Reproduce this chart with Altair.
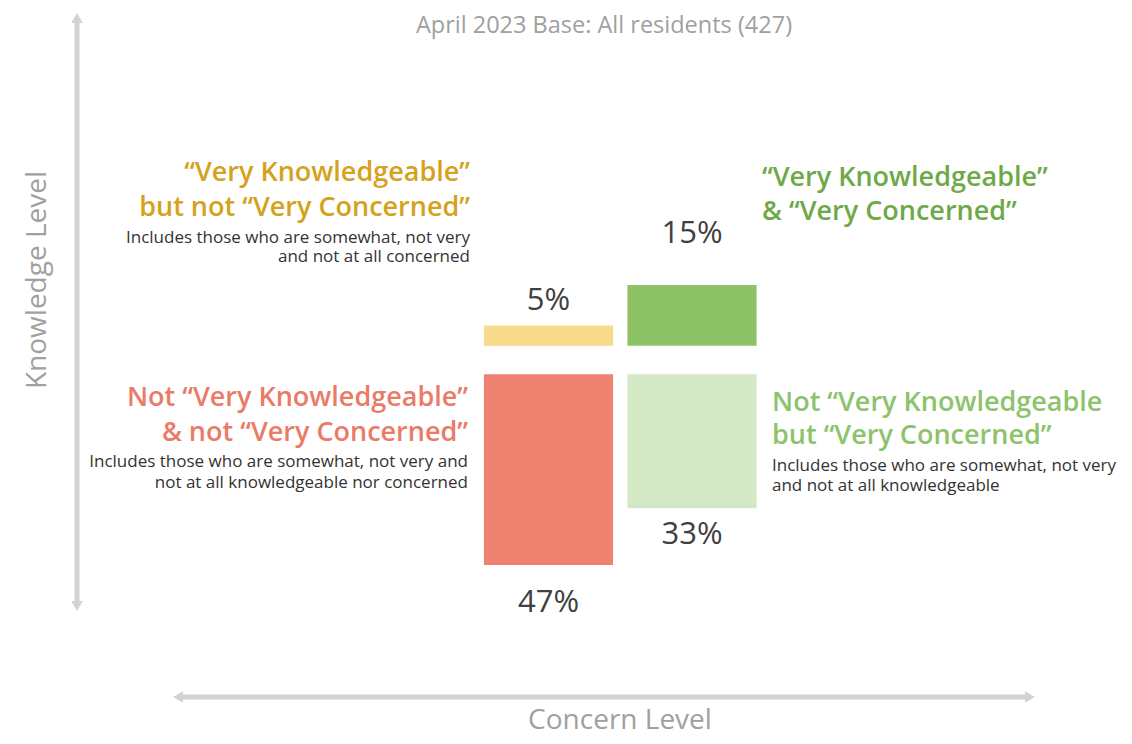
import altair as alt
import pandas as pd

# ---- data ----
quadrants = ["VK_notVC", "VK_VC", "notVK_notVC", "notVK_VC"]
values = [5, 15, 47, 33]
columns = [0, 1, 0, 1]          # 0 = not "Very Concerned", 1 = "Very Concerned"
rows = ["top", "top", "bottom", "bottom"]  # top = "Very Knowledgeable"
bar_colors = ["#F9D98A", "#8DC266", "#EC826F", "#D3E8C5"]
pct_labels = ["5%", "15%", "47%", "33%"]

title_text = "April 2023 Base: All residents (427)"
y_axis_title = "Knowledge Level"
x_axis_title = "Concern Level"

df = pd.DataFrame({
    "quadrant": quadrants,
    "value": values,
    "col": columns,
    "row": rows,
    "color": bar_colors,
    "label": pct_labels,
})

FONT = "Open Sans"
W, H = 1116, 728

xs = alt.Scale(domain=[-3.766, 4.010], nice=False, zero=False)
ys = alt.Scale(domain=[-92.6, 86.7], nice=False, zero=False)

base = alt.Chart(df).transform_calculate(
    x0="datum.col - 0.45",
    x1="datum.col + 0.45",
    y0="datum.row == 'top' ? 3.5 : -3.5",
    y1="datum.row == 'top' ? 3.5 + datum.value : -3.5 - datum.value",
)

bars = base.mark_rect().encode(
    x=alt.X("x0:Q", scale=xs, axis=None),
    x2="x1:Q",
    y=alt.Y("y0:Q", scale=ys, axis=None),
    y2="y1:Q",
    color=alt.Color("color:N", scale=None, legend=None),
)

label_dy = {"VK_notVC": -25, "VK_VC": -51, "notVK_notVC": 38, "notVK_VC": 27}
pct_layers = []
for q in quadrants:
    pct_layers.append(
        base.transform_filter(alt.datum.quadrant == q).mark_text(
            font=FONT, fontSize=31, color="#404040", baseline="middle",
            align="center", dy=label_dy[q]
        ).encode(
            x=alt.X("col:Q", scale=xs, axis=None),
            y=alt.Y("y1:Q", scale=ys, axis=None),
            text="label:N",
        )
    )


def note(text, x, y, size, color, align="left", angle=0, weight="normal",
         baseline="middle", line_height=None):
    kw = dict(font=FONT, fontSize=size, color=color, align=align,
              baseline=baseline, fontWeight=weight)
    if angle:
        kw["angle"] = angle
    if line_height:
        kw["lineBreak"] = "\n"
        kw["lineHeight"] = line_height
    return alt.Chart(pd.DataFrame({"t": [text]})).mark_text(**kw).encode(
        text="t:N", x=alt.value(x), y=alt.value(y)
    )


YEL = "#D5A21D"
GRN = "#6EA947"
RED = "#EA7B68"
LGR = "#8CC36C"
SUB = "#333333"
GREY = "#A0A0A0"
HS = 27     # heading size
HW = 600    # heading weight
SS = 17     # sub text size

notes = [
    note(title_text, 596, 18, 23.5, GREY, "center"),
    note(y_axis_title, 30, 272, 28, GREY, "center", angle=270),
    note(x_axis_title, 612, 721, 28, GREY, "center", baseline="alphabetic"),
    # top-left
    note("\u201cVery Knowledgeable\u201d\nbut not \u201cVery Concerned\u201d",
         462, 165, HS, YEL, "right", weight=HW, line_height=35),
    note("Includes those who are somewhat, not very\nand not at all concerned",
         462, 230, SS, SUB, "right", line_height=19),
    # top-right
    note("\u201cVery Knowledgeable\u201d\n& \u201cVery Concerned\u201d",
         754, 170, HS, GRN, "left", weight=HW, line_height=34),
    # bottom-left
    note("Not \u201cVery Knowledgeable\u201d\n& not \u201cVery Concerned\u201d",
         460, 390, HS, RED, "right", weight=HW, line_height=35),
    note("Includes those who are somewhat, not very and\nnot at all knowledgeable nor concerned",
         460, 454, SS, SUB, "right", line_height=21),
    # bottom-right
    note("Not \u201cVery Knowledgeable\nbut \u201cVery Concerned\u201d",
         764, 395, HS, LGR, "left", weight=HW, line_height=33),
    note("Includes those who are somewhat, not very\nand not at all knowledgeable",
         764, 458, SS, SUB, "left", line_height=20),
]

ARROW = "#D3D3D3"
one = pd.DataFrame({"a": [0]})
vline = alt.Chart(one).mark_rule(color=ARROW, strokeWidth=5).encode(
    x=alt.value(69), y=alt.value(10), y2=alt.value(598))
hline = alt.Chart(one).mark_rule(color=ARROW, strokeWidth=5).encode(
    x=alt.value(172), x2=alt.value(1020), y=alt.value(689))


def head(shape, x, y):
    return alt.Chart(one).mark_point(shape=shape, filled=True, color=ARROW,
                                     opacity=1, size=130).encode(
        x=alt.value(x), y=alt.value(y))


heads = [
    head("triangle-up", 69, 10),
    head("triangle-down", 69, 598),
    head("triangle-left", 170, 689),
    head("triangle-right", 1022, 689),
]

chart = alt.layer(
    vline, hline, *heads, bars, *pct_layers, *notes
).properties(
    width=W, height=H, padding=0,
    autosize=alt.AutoSizeParams(type="none"),
).configure_view(strokeWidth=0)

chart.save("out.html", embed_options={"renderer": "svg", "actions": False})
